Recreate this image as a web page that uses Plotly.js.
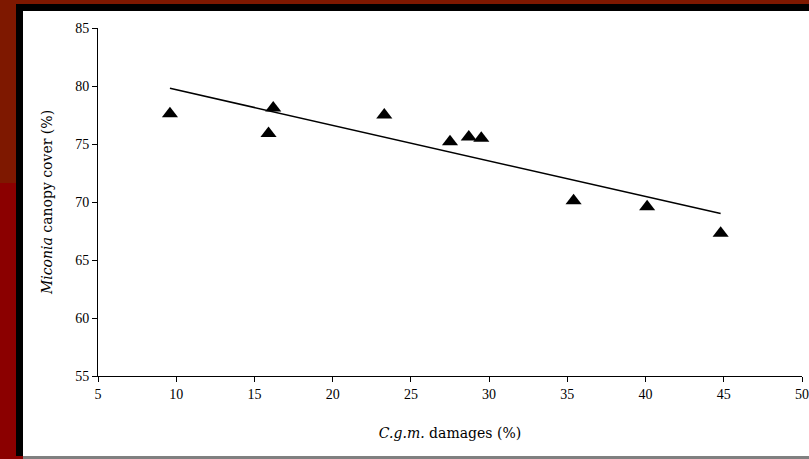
<!DOCTYPE html>
<html>
<head>
<meta charset="utf-8">
<script src="https://cdn.plot.ly/plotly-3.0.1.min.js"></script>
<style>
  html, body { margin: 0; padding: 0; }
  body {
    width: 809px; height: 459px; overflow: hidden; position: relative;
    background: linear-gradient(to bottom, #7e1800 0px, #7e1800 183px, #8b0000 183px, #8b0000 459px);
  }
  #frame {
    position: absolute; left: 16px; top: 4px; width: 793px; height: 452px;
    background: #000;
  }
  #chart {
    position: absolute; left: 23px; top: 11px; width: 786px; height: 445px;
    background: #fff;
  }
  #bottomline {
    position: absolute; left: 23px; top: 456px; width: 786px; height: 3px; background: #808080;
  }
</style>
</head>
<body>
<div id="frame"></div>
<div id="chart"></div>
<div id="bottomline"></div>
<script>
// Observed data: C.g.m. damages (%) vs Miconia canopy cover (%)
const damages = [9.6, 15.9, 16.2, 23.3, 27.5, 28.7, 29.5, 35.4, 40.1, 44.8];
const canopy  = [77.6, 75.9, 78.1, 77.5, 75.2, 75.6, 75.5, 70.1, 69.6, 67.3];
// Trend line endpoints
const trendX = [9.6, 44.8];
const trendY = [79.8, 69.0];
const xTicks = [5, 10, 15, 20, 25, 30, 35, 40, 45, 50];
const yTicks = [55, 60, 65, 70, 75, 80, 85];

const tickFont = {family: '"Liberation Serif", "Times New Roman", serif', color: '#000', size: 14};
const titleFont = {family: '"DejaVu Serif", "Liberation Serif", serif', color: '#000', size: 14};

const traces = [
  {
    x: trendX, y: trendY, type: 'scatter', mode: 'lines',
    line: {color: '#000', width: 1.5}, hoverinfo: 'skip', showlegend: false
  },
  {
    x: damages, y: canopy, type: 'scatter', mode: 'markers',
    marker: {symbol: 'triangle-up', size: 14, color: '#000'}, showlegend: false
  }
];

const layout = {
  width: 786, height: 445,
  margin: {l: 75, r: 7, t: 17, b: 80},
  paper_bgcolor: '#fff', plot_bgcolor: '#fff',
  showlegend: false,
  xaxis: {
    range: [5, 50], tickvals: xTicks, ticktext: xTicks.map(String),
    showgrid: false, zeroline: false, showline: true, linecolor: '#000', linewidth: 1,
    ticks: 'outside', ticklen: 5, tickcolor: '#000', tickwidth: 1,
    tickfont: tickFont,
    automargin: false,
    title: {text: '<i>C.g.m.</i> damages (%)', font: titleFont, standoff: 27}
  },
  yaxis: {
    range: [55, 85], tickvals: yTicks, ticktext: yTicks.map(String),
    showgrid: false, zeroline: false, showline: true, linecolor: '#000', linewidth: 1,
    ticks: 'outside', ticklen: 5, tickcolor: '#000', tickwidth: 1,
    tickfont: tickFont,
    automargin: false,
    title: {text: '<i>Miconia</i> canopy cover (%)', font: titleFont, standoff: 19}
  }
};

Plotly.newPlot('chart', traces, layout, {displayModeBar: false, staticPlot: true});
</script>
</body>
</html>
